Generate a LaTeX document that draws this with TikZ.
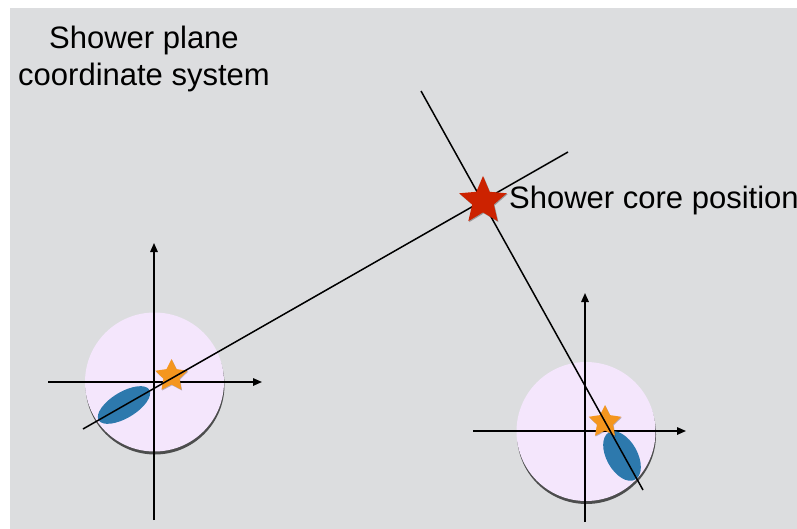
\documentclass[tikz,border=0pt]{standalone}
\usepackage{fontspec}
\setmainfont{Liberation Sans}
\usetikzlibrary{shapes.geometric,shadows,arrows.meta}
\definecolor{bggray}{HTML}{DCDDDF}
\definecolor{lavender}{HTML}{F4E6FC}
\definecolor{blobblue}{HTML}{2D79AD}
\definecolor{starorange}{HTML}{F4961E}
\definecolor{starred}{HTML}{CC2200}
\tikzset{
  plate/.style={circle, fill=lavender, minimum size=139pt, inner sep=0pt,
    drop shadow={shadow xshift=0.5pt, shadow yshift=-3pt, fill=black, opacity=0.65}},
  axis/.style={line width=1.5pt, -{Triangle[length=9pt,width=7.5pt]}},
  track/.style={line width=1.5pt},
  blob/.style={ellipse, fill=blobblue, inner sep=0pt},
  smallstar/.style={star, star points=5, star point ratio=2.0, fill=starorange,
    minimum size=34pt, inner sep=0pt,
    drop shadow={shadow xshift=0.6pt, shadow yshift=-0.8pt, fill=black, opacity=0.25}},
  bigstar/.style={star, star points=5, star point ratio=2.2, fill=starred,
    minimum size=50pt, inner sep=0pt,
    drop shadow={shadow xshift=0.8pt, shadow yshift=-1pt, fill=black, opacity=0.3}},
  label/.style={font=\fontsize{31}{37}\selectfont, text=black, inner sep=0pt}
}
\begin{document}
\begin{tikzpicture}[x=1pt,y=-1pt]
\useasboundingbox (0,0) rectangle (797,529);
\fill[white] (0,0) rectangle (797,529);
\fill[bggray] (10,8) rectangle (797,529);
% plates
\node[plate] (lplate) at (154.5,382) {};
\node[plate] (rplate) at (586,431.5) {};
% axes
\coordinate (lvb) at (154,520);
\coordinate (lvt) at (154,243);
\coordinate (lhl) at (48,382);
\coordinate (lhr) at (262,382);
\coordinate (rvb) at (585,522);
\coordinate (rvt) at (585,293);
\coordinate (rhl) at (473,431);
\coordinate (rhr) at (686,431);
\draw[axis] (lvb) -- (lvt);
\draw[axis] (lhl) -- (lhr);
\draw[axis] (rvb) -- (rvt);
\draw[axis] (rhl) -- (rhr);
% blobs
\node[blob, minimum width=59pt, minimum height=26pt, rotate=31] (lblob) at (124,405) {};
\node[blob, minimum width=54pt, minimum height=31pt, rotate=-61] (rblob) at (622,456) {};
% small stars
\node[smallstar] (lstar) at (171.5,376) {};
\node[smallstar] (rstar) at (605,422) {};
% tracks
\coordinate (t1a) at (83,429);
\coordinate (t1b) at (568,152);
\coordinate (t2a) at (421,91);
\coordinate (t2b) at (643,490);
\draw[track] (t1a) -- (t1b);
\draw[track] (t2a) -- (t2b);
% core
\node[bigstar] (core) at (483,201) {};
% texts
\node[label, anchor=base west] (corelabel) at (509,209) {Shower core position};
\node[label, anchor=base] (title1) at (144,49) {Shower plane};
\node[label, anchor=base] (title2) at (144,86) {coordinate system};
\end{tikzpicture}
\end{document}
